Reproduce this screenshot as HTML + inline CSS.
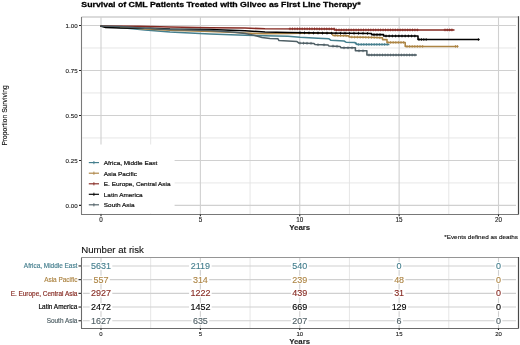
<!DOCTYPE html><html><head><meta charset="utf-8"><style>html,body{margin:0;padding:0;background:#fff;width:520px;height:345px;overflow:hidden}svg{display:block;will-change:transform}text{font-family:"Liberation Sans",sans-serif}</style></head><body>
<svg width="520" height="345" viewBox="0 0 520 345">
<rect x="0" y="0" width="520" height="345" fill="#fff"/>
<text transform="translate(81.30,6.75) scale(1.1725,1)" font-size="7.5" font-weight="bold" fill="#000" stroke="#000" stroke-width="0.25">Survival of CML Patients Treated with Glivec as First Line Therapy*</text>
<line x1="150.69" y1="17.0" x2="150.69" y2="214.5" stroke="#e3e3e3" stroke-width="0.9"/>
<line x1="250.06" y1="17.0" x2="250.06" y2="214.5" stroke="#e3e3e3" stroke-width="0.9"/>
<line x1="349.44" y1="17.0" x2="349.44" y2="214.5" stroke="#e3e3e3" stroke-width="0.9"/>
<line x1="448.81" y1="17.0" x2="448.81" y2="214.5" stroke="#e3e3e3" stroke-width="0.9"/>
<line x1="82.3" y1="182.91" x2="516.0" y2="182.91" stroke="#e3e3e3" stroke-width="0.9"/>
<line x1="82.3" y1="137.94" x2="516.0" y2="137.94" stroke="#e3e3e3" stroke-width="0.9"/>
<line x1="82.3" y1="92.96" x2="516.0" y2="92.96" stroke="#e3e3e3" stroke-width="0.9"/>
<line x1="82.3" y1="47.99" x2="516.0" y2="47.99" stroke="#e3e3e3" stroke-width="0.9"/>
<line x1="101.00" y1="17.0" x2="101.00" y2="214.5" stroke="#d0d0d0" stroke-width="1.1"/>
<line x1="200.38" y1="17.0" x2="200.38" y2="214.5" stroke="#d0d0d0" stroke-width="1.1"/>
<line x1="299.75" y1="17.0" x2="299.75" y2="214.5" stroke="#d0d0d0" stroke-width="1.1"/>
<line x1="399.12" y1="17.0" x2="399.12" y2="214.5" stroke="#d0d0d0" stroke-width="1.1"/>
<line x1="498.50" y1="17.0" x2="498.50" y2="214.5" stroke="#d0d0d0" stroke-width="1.1"/>
<line x1="82.3" y1="205.40" x2="516.0" y2="205.40" stroke="#d0d0d0" stroke-width="1.1"/>
<line x1="82.3" y1="160.43" x2="516.0" y2="160.43" stroke="#d0d0d0" stroke-width="1.1"/>
<line x1="82.3" y1="115.45" x2="516.0" y2="115.45" stroke="#d0d0d0" stroke-width="1.1"/>
<line x1="82.3" y1="70.47" x2="516.0" y2="70.47" stroke="#d0d0d0" stroke-width="1.1"/>
<line x1="82.3" y1="25.50" x2="516.0" y2="25.50" stroke="#d0d0d0" stroke-width="1.1"/>
<path d="M100.5,26.0 L120.0,27.6 L145.0,30.0 L170.0,32.0 L210.0,33.9 L245.0,35.2 L265.0,35.8 L288.0,36.2 L300.0,37.3 L318.0,38.2 L329.0,38.8 L331.0,40.3 L344.0,41.0 L346.0,42.2 L355.0,42.5 L357.0,44.4 L389.4,44.4" fill="none" stroke="#457f8e" stroke-width="1.55" stroke-linejoin="round"/>
<path d="M100.5,26.0 L120.0,27.1 L145.0,28.9 L170.0,30.2 L210.0,31.4 L235.0,32.6 L245.0,33.1 L265.0,33.7 L288.0,33.4 L300.0,33.2 L332.0,33.2 L333.0,35.4 L348.0,35.7 L350.0,37.0 L376.0,37.5 L382.5,37.8 L382.5,39.6 L387.0,39.6 L387.0,42.4 L405.2,42.4 L405.2,46.4 L458.0,46.4" fill="none" stroke="#ad8544" stroke-width="1.55" stroke-linejoin="round"/>
<path d="M100.5,26.0 L140.0,26.2 L170.0,27.0 L210.0,27.7 L245.0,28.1 L265.0,28.7 L334.5,28.9 L334.5,29.9 L454.5,29.9" fill="none" stroke="#862a22" stroke-width="1.55" stroke-linejoin="round"/>
<path d="M100.5,26.0 L105.7,27.6 L120.0,28.1 L150.0,28.3 L170.0,29.0 L210.0,29.4 L245.0,30.8 L265.0,32.0 L288.0,32.6 L323.0,33.1 L371.5,33.4 L371.5,34.6 L383.6,34.6 L383.6,36.0 L418.0,36.0 L418.0,39.5 L479.4,39.5" fill="none" stroke="#000000" stroke-width="1.55" stroke-linejoin="round"/>
<path d="M100.5,26.0 L120.0,26.4 L145.0,28.2 L170.0,29.4 L210.0,30.6 L235.0,32.2 L245.0,33.4 L255.0,35.5 L262.0,37.4 L270.0,38.4 L278.0,38.8 L279.0,40.6 L288.0,40.9 L297.0,41.6 L299.0,43.1 L314.0,43.4 L315.0,44.6 L328.0,44.9 L329.0,46.0 L340.0,46.4 L341.0,47.8 L355.4,47.8 L355.4,50.8 L366.9,50.8 L366.9,55.0 L416.8,55.0" fill="none" stroke="#4f5f65" stroke-width="1.55" stroke-linejoin="round"/>
<path d="M356.0,42.1v2.8M354.7,43.5h2.6M358.6,43.0v2.8M357.3,44.4h2.6M361.2,43.0v2.8M359.9,44.4h2.6M363.8,43.0v2.8M362.5,44.4h2.6M366.4,43.0v2.8M365.1,44.4h2.6M369.0,43.0v2.8M367.7,44.4h2.6M371.6,43.0v2.8M370.3,44.4h2.6M374.2,43.0v2.8M372.9,44.4h2.6M376.8,43.0v2.8M375.5,44.4h2.6M379.4,43.0v2.8M378.1,44.4h2.6M382.0,43.0v2.8M380.7,44.4h2.6M384.6,43.0v2.8M383.3,44.4h2.6M387.2,43.0v2.8M385.9,44.4h2.6" stroke="#457f8e" stroke-width="0.75" fill="none"/>
<path d="M335.0,34.0v2.8M333.7,35.4h2.6M337.8,34.1v2.8M336.5,35.5h2.6M340.6,34.2v2.8M339.3,35.6h2.6M343.4,34.2v2.8M342.1,35.6h2.6M346.2,34.3v2.8M344.9,35.7h2.6M349.0,35.0v2.8M347.7,36.4h2.6M351.8,35.6v2.8M350.5,37.0h2.6M354.6,35.7v2.8M353.3,37.1h2.6M357.4,35.7v2.8M356.1,37.1h2.6M360.2,35.8v2.8M358.9,37.2h2.6M363.0,35.9v2.8M361.7,37.2h2.6M365.8,35.9v2.8M364.5,37.3h2.6M368.6,36.0v2.8M367.3,37.4h2.6M371.4,36.0v2.8M370.1,37.4h2.6M374.2,36.1v2.8M372.9,37.5h2.6M377.0,36.1v2.8M375.7,37.5h2.6M379.8,36.3v2.8M378.5,37.7h2.6M388.0,41.0v2.8M386.7,42.4h2.6M390.6,41.0v2.8M389.3,42.4h2.6M393.2,41.0v2.8M391.9,42.4h2.6M395.8,41.0v2.8M394.5,42.4h2.6M398.4,41.0v2.8M397.1,42.4h2.6M401.0,41.0v2.8M399.7,42.4h2.6M403.6,41.0v2.8M402.3,42.4h2.6M407.0,45.0v2.8M405.7,46.4h2.6M409.6,45.0v2.8M408.3,46.4h2.6M412.2,45.0v2.8M410.9,46.4h2.6M414.8,45.0v2.8M413.5,46.4h2.6M417.4,45.0v2.8M416.1,46.4h2.6M420.0,45.0v2.8M418.7,46.4h2.6M422.6,45.0v2.8M421.3,46.4h2.6M455.5,45.0v2.8M454.2,46.4h2.6M457.5,45.0v2.8M456.2,46.4h2.6" stroke="#ad8544" stroke-width="0.75" fill="none"/>
<path d="M290.0,27.4v2.8M288.7,28.8h2.6M292.4,27.4v2.8M291.1,28.8h2.6M294.9,27.4v2.8M293.6,28.8h2.6M297.3,27.4v2.8M296.0,28.8h2.6M299.8,27.4v2.8M298.5,28.8h2.6M302.2,27.4v2.8M300.9,28.8h2.6M304.7,27.4v2.8M303.4,28.8h2.6M307.1,27.4v2.8M305.8,28.8h2.6M309.6,27.4v2.8M308.3,28.8h2.6M312.0,27.4v2.8M310.7,28.8h2.6M314.5,27.4v2.8M313.2,28.8h2.6M316.9,27.4v2.8M315.6,28.8h2.6M319.4,27.5v2.8M318.1,28.9h2.6M321.8,27.5v2.8M320.5,28.9h2.6M324.3,27.5v2.8M323.0,28.9h2.6M326.7,27.5v2.8M325.4,28.9h2.6M329.2,27.5v2.8M327.9,28.9h2.6M331.6,27.5v2.8M330.3,28.9h2.6M334.1,27.5v2.8M332.8,28.9h2.6M336.5,28.5v2.8M335.2,29.9h2.6M339.0,28.5v2.8M337.7,29.9h2.6M341.4,28.5v2.8M340.1,29.9h2.6M343.9,28.5v2.8M342.6,29.9h2.6M346.3,28.5v2.8M345.0,29.9h2.6M348.8,28.5v2.8M347.5,29.9h2.6M351.2,28.5v2.8M349.9,29.9h2.6M353.7,28.5v2.8M352.4,29.9h2.6M356.1,28.5v2.8M354.8,29.9h2.6M358.6,28.5v2.8M357.3,29.9h2.6M361.0,28.5v2.8M359.7,29.9h2.6M363.5,28.5v2.8M362.2,29.9h2.6M365.9,28.5v2.8M364.6,29.9h2.6M368.4,28.5v2.8M367.1,29.9h2.6M370.8,28.5v2.8M369.5,29.9h2.6M373.3,28.5v2.8M372.0,29.9h2.6M375.7,28.5v2.8M374.4,29.9h2.6M378.2,28.5v2.8M376.9,29.9h2.6M380.6,28.5v2.8M379.3,29.9h2.6M383.1,28.5v2.8M381.8,29.9h2.6M385.5,28.5v2.8M384.2,29.9h2.6M388.0,28.5v2.8M386.7,29.9h2.6M390.4,28.5v2.8M389.1,29.9h2.6M392.9,28.5v2.8M391.6,29.9h2.6M395.3,28.5v2.8M394.0,29.9h2.6M397.8,28.5v2.8M396.5,29.9h2.6M400.2,28.5v2.8M398.9,29.9h2.6M402.7,28.5v2.8M401.4,29.9h2.6M405.1,28.5v2.8M403.8,29.9h2.6M407.6,28.5v2.8M406.3,29.9h2.6M410.0,28.5v2.8M408.7,29.9h2.6M412.5,28.5v2.8M411.2,29.9h2.6M414.9,28.5v2.8M413.6,29.9h2.6M417.4,28.5v2.8M416.1,29.9h2.6M445.0,28.5v2.8M443.7,29.9h2.6M447.3,28.5v2.8M446.0,29.9h2.6M449.6,28.5v2.8M448.3,29.9h2.6M451.9,28.5v2.8M450.6,29.9h2.6" stroke="#862a22" stroke-width="0.75" fill="none"/>
<path d="M300.0,31.4v2.8M298.7,32.8h2.6M304.5,31.4v2.8M303.2,32.8h2.6M309.0,31.5v2.8M307.7,32.9h2.6M313.5,31.6v2.8M312.2,33.0h2.6M318.0,31.6v2.8M316.7,33.0h2.6M322.5,31.7v2.8M321.2,33.1h2.6M327.0,31.7v2.8M325.7,33.1h2.6M331.5,31.8v2.8M330.2,33.2h2.6M336.0,31.8v2.8M334.7,33.2h2.6M340.5,31.8v2.8M339.2,33.2h2.6M345.0,31.8v2.8M343.7,33.2h2.6M349.5,31.9v2.8M348.2,33.3h2.6M354.0,31.9v2.8M352.7,33.3h2.6M358.5,31.9v2.8M357.2,33.3h2.6M363.0,31.9v2.8M361.7,33.3h2.6M367.5,32.0v2.8M366.2,33.4h2.6M374.0,33.2v2.8M372.7,34.6h2.6M377.0,33.2v2.8M375.7,34.6h2.6M380.0,33.2v2.8M378.7,34.6h2.6M386.0,34.6v2.8M384.7,36.0h2.6M389.2,34.6v2.8M387.9,36.0h2.6M392.4,34.6v2.8M391.1,36.0h2.6M395.6,34.6v2.8M394.3,36.0h2.6M398.8,34.6v2.8M397.5,36.0h2.6M402.0,34.6v2.8M400.7,36.0h2.6M405.2,34.6v2.8M403.9,36.0h2.6M408.4,34.6v2.8M407.1,36.0h2.6M411.6,34.6v2.8M410.3,36.0h2.6M414.8,34.6v2.8M413.5,36.0h2.6M419.0,38.1v2.8M417.7,39.5h2.6M421.4,38.1v2.8M420.1,39.5h2.6M423.8,38.1v2.8M422.5,39.5h2.6M426.2,38.1v2.8M424.9,39.5h2.6M478.4,38.1v2.8M477.1,39.5h2.6" stroke="#000000" stroke-width="0.75" fill="none"/>
<path d="M300.0,41.7v2.8M298.7,43.1h2.6M303.5,41.8v2.8M302.2,43.2h2.6M307.0,41.9v2.8M305.7,43.3h2.6M311.0,41.9v2.8M309.7,43.3h2.6M318.0,43.3v2.8M316.7,44.7h2.6M324.0,43.4v2.8M322.7,44.8h2.6M333.0,44.7v2.8M331.7,46.1h2.6M337.0,44.9v2.8M335.7,46.3h2.6M344.0,46.4v2.8M342.7,47.8h2.6M348.0,46.4v2.8M346.7,47.8h2.6M352.0,46.4v2.8M350.7,47.8h2.6M359.0,49.4v2.8M357.7,50.8h2.6M363.0,49.4v2.8M361.7,50.8h2.6M369.0,53.6v2.8M367.7,55.0h2.6M371.7,53.6v2.8M370.4,55.0h2.6M374.4,53.6v2.8M373.1,55.0h2.6M377.1,53.6v2.8M375.8,55.0h2.6M379.8,53.6v2.8M378.5,55.0h2.6M382.5,53.6v2.8M381.2,55.0h2.6M385.2,53.6v2.8M383.9,55.0h2.6M387.9,53.6v2.8M386.6,55.0h2.6M390.6,53.6v2.8M389.3,55.0h2.6M393.3,53.6v2.8M392.0,55.0h2.6M396.0,53.6v2.8M394.7,55.0h2.6M398.7,53.6v2.8M397.4,55.0h2.6M401.4,53.6v2.8M400.1,55.0h2.6M404.1,53.6v2.8M402.8,55.0h2.6M406.8,53.6v2.8M405.5,55.0h2.6M409.5,53.6v2.8M408.2,55.0h2.6M412.2,53.6v2.8M410.9,55.0h2.6M414.9,53.6v2.8M413.6,55.0h2.6" stroke="#4f5f65" stroke-width="0.75" fill="none"/>
<rect x="82" y="144.5" width="92.6" height="69" fill="#fff"/>
<line x1="88.8" y1="162.6" x2="99" y2="162.6" stroke="#457f8e" stroke-width="1.15"/>
<line x1="93.9" y1="161.0" x2="93.9" y2="164.2" stroke="#457f8e" stroke-width="0.9"/>
<text transform="translate(103.80,165.00) scale(1.055,1)" font-size="6.1" fill="#111" stroke="#111" stroke-width="0.2">Africa, Middle East</text>
<line x1="88.8" y1="173.2" x2="99" y2="173.2" stroke="#ad8544" stroke-width="1.15"/>
<line x1="93.9" y1="171.6" x2="93.9" y2="174.79999999999998" stroke="#ad8544" stroke-width="0.9"/>
<text transform="translate(103.80,175.60) scale(1.055,1)" font-size="6.1" fill="#111" stroke="#111" stroke-width="0.2">Asia Pacific</text>
<line x1="88.8" y1="183.8" x2="99" y2="183.8" stroke="#862a22" stroke-width="1.15"/>
<line x1="93.9" y1="182.20000000000002" x2="93.9" y2="185.4" stroke="#862a22" stroke-width="0.9"/>
<text transform="translate(103.80,186.20) scale(1.055,1)" font-size="6.1" fill="#111" stroke="#111" stroke-width="0.2">E. Europe, Central Asia</text>
<line x1="88.8" y1="194.3" x2="99" y2="194.3" stroke="#000000" stroke-width="1.15"/>
<line x1="93.9" y1="192.70000000000002" x2="93.9" y2="195.9" stroke="#000000" stroke-width="0.9"/>
<text transform="translate(103.80,196.70) scale(1.055,1)" font-size="6.1" fill="#111" stroke="#111" stroke-width="0.2">Latin America</text>
<line x1="88.8" y1="204.8" x2="99" y2="204.8" stroke="#4f5f65" stroke-width="1.15"/>
<line x1="93.9" y1="203.20000000000002" x2="93.9" y2="206.4" stroke="#4f5f65" stroke-width="0.9"/>
<text transform="translate(103.80,207.20) scale(1.055,1)" font-size="6.1" fill="#111" stroke="#111" stroke-width="0.2">South Asia</text>
<line x1="81.5" y1="17.0" x2="518.5" y2="17.0" stroke="#cfcfcf" stroke-width="1.6"/>
<line x1="81.5" y1="17.0" x2="81.5" y2="214.5" stroke="#7a7a7a" stroke-width="1.1"/>
<line x1="81.0" y1="214.5" x2="518.5" y2="214.5" stroke="#787878" stroke-width="1.1"/>
<line x1="518.5" y1="16.2" x2="518.5" y2="214.5" stroke="#484848" stroke-width="1.2"/>
<line x1="79" y1="205.40" x2="81" y2="205.40" stroke="#222" stroke-width="1.1"/>
<text transform="translate(77.60,207.55) scale(1.03,1)" font-size="6.0" text-anchor="end" fill="#222" stroke="#222" stroke-width="0.12">0.00</text>
<line x1="79" y1="160.43" x2="81" y2="160.43" stroke="#222" stroke-width="1.1"/>
<text transform="translate(77.60,162.58) scale(1.03,1)" font-size="6.0" text-anchor="end" fill="#222" stroke="#222" stroke-width="0.12">0.25</text>
<line x1="79" y1="115.45" x2="81" y2="115.45" stroke="#222" stroke-width="1.1"/>
<text transform="translate(77.60,117.60) scale(1.03,1)" font-size="6.0" text-anchor="end" fill="#222" stroke="#222" stroke-width="0.12">0.50</text>
<line x1="79" y1="70.47" x2="81" y2="70.47" stroke="#222" stroke-width="1.1"/>
<text transform="translate(77.60,72.62) scale(1.03,1)" font-size="6.0" text-anchor="end" fill="#222" stroke="#222" stroke-width="0.12">0.75</text>
<line x1="79" y1="25.50" x2="81" y2="25.50" stroke="#222" stroke-width="1.1"/>
<text transform="translate(77.60,27.65) scale(1.03,1)" font-size="6.0" text-anchor="end" fill="#222" stroke="#222" stroke-width="0.12">1.00</text>
<line x1="101.00" y1="214.5" x2="101.00" y2="216.3" stroke="#222" stroke-width="1.1"/>
<text transform="translate(101.00,221.90) scale(1.0,1)" font-size="6.3" text-anchor="middle" fill="#222" stroke="#222" stroke-width="0.12">0</text>
<line x1="200.38" y1="214.5" x2="200.38" y2="216.3" stroke="#222" stroke-width="1.1"/>
<text transform="translate(200.38,221.90) scale(1.0,1)" font-size="6.3" text-anchor="middle" fill="#222" stroke="#222" stroke-width="0.12">5</text>
<line x1="299.75" y1="214.5" x2="299.75" y2="216.3" stroke="#222" stroke-width="1.1"/>
<text transform="translate(299.75,221.90) scale(1.0,1)" font-size="6.3" text-anchor="middle" fill="#222" stroke="#222" stroke-width="0.12">10</text>
<line x1="399.12" y1="214.5" x2="399.12" y2="216.3" stroke="#222" stroke-width="1.1"/>
<text transform="translate(399.12,221.90) scale(1.0,1)" font-size="6.3" text-anchor="middle" fill="#222" stroke="#222" stroke-width="0.12">15</text>
<line x1="498.50" y1="214.5" x2="498.50" y2="216.3" stroke="#222" stroke-width="1.1"/>
<text transform="translate(498.50,221.90) scale(1.0,1)" font-size="6.3" text-anchor="middle" fill="#222" stroke="#222" stroke-width="0.12">20</text>
<text transform="translate(299.70,229.90) scale(1.07,1)" font-size="7.4" font-weight="bold" text-anchor="middle" fill="#222" stroke="#222" stroke-width="0.1">Years</text>
<text transform="translate(6.9,115.45) scale(1.12,1) rotate(-90)" font-size="6.7" fill="#111" stroke="#111" stroke-width="0.12" text-anchor="middle">Proportion Surviving</text>
<text transform="translate(518.00,239.00) scale(1.06,1)" font-size="6.0" text-anchor="end" fill="#111" stroke="#111" stroke-width="0.12">*Events defined as deaths</text>
<text transform="translate(81.30,253.20) scale(1.07,1)" font-size="9.0" fill="#111" stroke="#111" stroke-width="0.12">Number at risk</text>
<line x1="101.00" y1="257.5" x2="101.00" y2="328.5" stroke="#d0d0d0" stroke-width="1.1"/>
<line x1="150.69" y1="257.5" x2="150.69" y2="328.5" stroke="#e3e3e3" stroke-width="0.9"/>
<line x1="200.38" y1="257.5" x2="200.38" y2="328.5" stroke="#d0d0d0" stroke-width="1.1"/>
<line x1="250.06" y1="257.5" x2="250.06" y2="328.5" stroke="#e3e3e3" stroke-width="0.9"/>
<line x1="299.75" y1="257.5" x2="299.75" y2="328.5" stroke="#d0d0d0" stroke-width="1.1"/>
<line x1="349.44" y1="257.5" x2="349.44" y2="328.5" stroke="#e3e3e3" stroke-width="0.9"/>
<line x1="399.12" y1="257.5" x2="399.12" y2="328.5" stroke="#d0d0d0" stroke-width="1.1"/>
<line x1="448.81" y1="257.5" x2="448.81" y2="328.5" stroke="#e3e3e3" stroke-width="0.9"/>
<line x1="498.50" y1="257.5" x2="498.50" y2="328.5" stroke="#d0d0d0" stroke-width="1.1"/>
<line x1="83" y1="265.95" x2="516" y2="265.95" stroke="#d0d0d0" stroke-width="1.1"/>
<line x1="83" y1="279.65" x2="516" y2="279.65" stroke="#d0d0d0" stroke-width="1.1"/>
<line x1="83" y1="293.35" x2="516" y2="293.35" stroke="#d0d0d0" stroke-width="1.1"/>
<line x1="83" y1="307.05" x2="516" y2="307.05" stroke="#d0d0d0" stroke-width="1.1"/>
<line x1="83" y1="320.75" x2="516" y2="320.75" stroke="#d0d0d0" stroke-width="1.1"/>
<line x1="78.5" y1="265.95" x2="81" y2="265.95" stroke="#222" stroke-width="1.1"/>
<text transform="translate(77.40,268.20) scale(1.02,1)" font-size="6.3" text-anchor="end" fill="#457f8e" stroke="#457f8e" stroke-width="0.16">Africa, Middle East</text>
<rect x="89.71" y="262.05" width="22.59" height="8" fill="#fff"/>
<text transform="translate(101.00,268.96) scale(1.07,1)" font-size="8.4" text-anchor="middle" fill="#457f8e" stroke="#457f8e" stroke-width="0.12">5631</text>
<rect x="189.08" y="262.05" width="22.59" height="8" fill="#fff"/>
<text transform="translate(200.38,268.96) scale(1.07,1)" font-size="8.4" text-anchor="middle" fill="#457f8e" stroke="#457f8e" stroke-width="0.12">2119</text>
<rect x="290.95" y="262.05" width="17.59" height="8" fill="#fff"/>
<text transform="translate(299.75,268.96) scale(1.07,1)" font-size="8.4" text-anchor="middle" fill="#457f8e" stroke="#457f8e" stroke-width="0.12">540</text>
<rect x="395.33" y="262.05" width="7.60" height="8" fill="#fff"/>
<text transform="translate(399.12,268.96) scale(1.07,1)" font-size="8.4" text-anchor="middle" fill="#457f8e" stroke="#457f8e" stroke-width="0.12">0</text>
<rect x="494.70" y="262.05" width="7.60" height="8" fill="#fff"/>
<text transform="translate(498.50,268.96) scale(1.07,1)" font-size="8.4" text-anchor="middle" fill="#457f8e" stroke="#457f8e" stroke-width="0.12">0</text>
<line x1="78.5" y1="279.65" x2="81" y2="279.65" stroke="#222" stroke-width="1.1"/>
<text transform="translate(77.40,281.90) scale(1.02,1)" font-size="6.3" text-anchor="end" fill="#ad8544" stroke="#ad8544" stroke-width="0.16">Asia Pacific</text>
<rect x="92.20" y="275.75" width="17.59" height="8" fill="#fff"/>
<text transform="translate(101.00,282.66) scale(1.07,1)" font-size="8.4" text-anchor="middle" fill="#ad8544" stroke="#ad8544" stroke-width="0.12">557</text>
<rect x="191.58" y="275.75" width="17.59" height="8" fill="#fff"/>
<text transform="translate(200.38,282.66) scale(1.07,1)" font-size="8.4" text-anchor="middle" fill="#ad8544" stroke="#ad8544" stroke-width="0.12">314</text>
<rect x="290.95" y="275.75" width="17.59" height="8" fill="#fff"/>
<text transform="translate(299.75,282.66) scale(1.07,1)" font-size="8.4" text-anchor="middle" fill="#ad8544" stroke="#ad8544" stroke-width="0.12">239</text>
<rect x="392.83" y="275.75" width="12.59" height="8" fill="#fff"/>
<text transform="translate(399.12,282.66) scale(1.07,1)" font-size="8.4" text-anchor="middle" fill="#ad8544" stroke="#ad8544" stroke-width="0.12">48</text>
<rect x="494.70" y="275.75" width="7.60" height="8" fill="#fff"/>
<text transform="translate(498.50,282.66) scale(1.07,1)" font-size="8.4" text-anchor="middle" fill="#ad8544" stroke="#ad8544" stroke-width="0.12">0</text>
<line x1="78.5" y1="293.35" x2="81" y2="293.35" stroke="#222" stroke-width="1.1"/>
<text transform="translate(77.40,295.60) scale(1.02,1)" font-size="6.3" text-anchor="end" fill="#862a22" stroke="#862a22" stroke-width="0.16">E. Europe, Central Asia</text>
<rect x="89.71" y="289.45" width="22.59" height="8" fill="#fff"/>
<text transform="translate(101.00,296.36) scale(1.07,1)" font-size="8.4" text-anchor="middle" fill="#862a22" stroke="#862a22" stroke-width="0.12">2927</text>
<rect x="189.08" y="289.45" width="22.59" height="8" fill="#fff"/>
<text transform="translate(200.38,296.36) scale(1.07,1)" font-size="8.4" text-anchor="middle" fill="#862a22" stroke="#862a22" stroke-width="0.12">1222</text>
<rect x="290.95" y="289.45" width="17.59" height="8" fill="#fff"/>
<text transform="translate(299.75,296.36) scale(1.07,1)" font-size="8.4" text-anchor="middle" fill="#862a22" stroke="#862a22" stroke-width="0.12">439</text>
<rect x="392.83" y="289.45" width="12.59" height="8" fill="#fff"/>
<text transform="translate(399.12,296.36) scale(1.07,1)" font-size="8.4" text-anchor="middle" fill="#862a22" stroke="#862a22" stroke-width="0.12">31</text>
<rect x="494.70" y="289.45" width="7.60" height="8" fill="#fff"/>
<text transform="translate(498.50,296.36) scale(1.07,1)" font-size="8.4" text-anchor="middle" fill="#862a22" stroke="#862a22" stroke-width="0.12">0</text>
<line x1="78.5" y1="307.05" x2="81" y2="307.05" stroke="#222" stroke-width="1.1"/>
<text transform="translate(77.40,309.30) scale(1.02,1)" font-size="6.3" text-anchor="end" fill="#000000" stroke="#000000" stroke-width="0.16">Latin America</text>
<rect x="89.71" y="303.15" width="22.59" height="8" fill="#fff"/>
<text transform="translate(101.00,310.06) scale(1.07,1)" font-size="8.4" text-anchor="middle" fill="#000000" stroke="#000000" stroke-width="0.12">2472</text>
<rect x="189.08" y="303.15" width="22.59" height="8" fill="#fff"/>
<text transform="translate(200.38,310.06) scale(1.07,1)" font-size="8.4" text-anchor="middle" fill="#000000" stroke="#000000" stroke-width="0.12">1452</text>
<rect x="290.95" y="303.15" width="17.59" height="8" fill="#fff"/>
<text transform="translate(299.75,310.06) scale(1.07,1)" font-size="8.4" text-anchor="middle" fill="#000000" stroke="#000000" stroke-width="0.12">669</text>
<rect x="390.33" y="303.15" width="17.59" height="8" fill="#fff"/>
<text transform="translate(399.12,310.06) scale(1.07,1)" font-size="8.4" text-anchor="middle" fill="#000000" stroke="#000000" stroke-width="0.12">129</text>
<rect x="494.70" y="303.15" width="7.60" height="8" fill="#fff"/>
<text transform="translate(498.50,310.06) scale(1.07,1)" font-size="8.4" text-anchor="middle" fill="#000000" stroke="#000000" stroke-width="0.12">0</text>
<line x1="78.5" y1="320.75" x2="81" y2="320.75" stroke="#222" stroke-width="1.1"/>
<text transform="translate(77.40,323.00) scale(1.02,1)" font-size="6.3" text-anchor="end" fill="#4f5f65" stroke="#4f5f65" stroke-width="0.16">South Asia</text>
<rect x="89.71" y="316.85" width="22.59" height="8" fill="#fff"/>
<text transform="translate(101.00,323.76) scale(1.07,1)" font-size="8.4" text-anchor="middle" fill="#4f5f65" stroke="#4f5f65" stroke-width="0.12">1627</text>
<rect x="191.58" y="316.85" width="17.59" height="8" fill="#fff"/>
<text transform="translate(200.38,323.76) scale(1.07,1)" font-size="8.4" text-anchor="middle" fill="#4f5f65" stroke="#4f5f65" stroke-width="0.12">635</text>
<rect x="290.95" y="316.85" width="17.59" height="8" fill="#fff"/>
<text transform="translate(299.75,323.76) scale(1.07,1)" font-size="8.4" text-anchor="middle" fill="#4f5f65" stroke="#4f5f65" stroke-width="0.12">207</text>
<rect x="395.33" y="316.85" width="7.60" height="8" fill="#fff"/>
<text transform="translate(399.12,323.76) scale(1.07,1)" font-size="8.4" text-anchor="middle" fill="#4f5f65" stroke="#4f5f65" stroke-width="0.12">6</text>
<rect x="494.70" y="316.85" width="7.60" height="8" fill="#fff"/>
<text transform="translate(498.50,323.76) scale(1.07,1)" font-size="8.4" text-anchor="middle" fill="#4f5f65" stroke="#4f5f65" stroke-width="0.12">0</text>
<line x1="81.5" y1="257.5" x2="518.5" y2="257.5" stroke="#959595" stroke-width="1.1"/>
<line x1="81.5" y1="257.5" x2="81.5" y2="328.5" stroke="#6a6a6a" stroke-width="1.1"/>
<line x1="81.0" y1="328.5" x2="518.5" y2="328.5" stroke="#6a6a6a" stroke-width="1.1"/>
<line x1="518.5" y1="257.0" x2="518.5" y2="328.5" stroke="#484848" stroke-width="1.2"/>
<line x1="101.00" y1="328.5" x2="101.00" y2="330.0" stroke="#222" stroke-width="1.1"/>
<text transform="translate(101.00,335.80) scale(1.05,1)" font-size="5.7" text-anchor="middle" fill="#222" stroke="#222" stroke-width="0.12">0</text>
<line x1="200.38" y1="328.5" x2="200.38" y2="330.0" stroke="#222" stroke-width="1.1"/>
<text transform="translate(200.38,335.80) scale(1.05,1)" font-size="5.7" text-anchor="middle" fill="#222" stroke="#222" stroke-width="0.12">5</text>
<line x1="299.75" y1="328.5" x2="299.75" y2="330.0" stroke="#222" stroke-width="1.1"/>
<text transform="translate(299.75,335.80) scale(1.05,1)" font-size="5.7" text-anchor="middle" fill="#222" stroke="#222" stroke-width="0.12">10</text>
<line x1="399.12" y1="328.5" x2="399.12" y2="330.0" stroke="#222" stroke-width="1.1"/>
<text transform="translate(399.12,335.80) scale(1.05,1)" font-size="5.7" text-anchor="middle" fill="#222" stroke="#222" stroke-width="0.12">15</text>
<line x1="498.50" y1="328.5" x2="498.50" y2="330.0" stroke="#222" stroke-width="1.1"/>
<text transform="translate(498.50,335.80) scale(1.05,1)" font-size="5.7" text-anchor="middle" fill="#222" stroke="#222" stroke-width="0.12">20</text>
<text transform="translate(299.60,343.90) scale(1.07,1)" font-size="7.3" font-weight="bold" text-anchor="middle" fill="#222" stroke="#222" stroke-width="0.1">Years</text>
</svg></body></html>
